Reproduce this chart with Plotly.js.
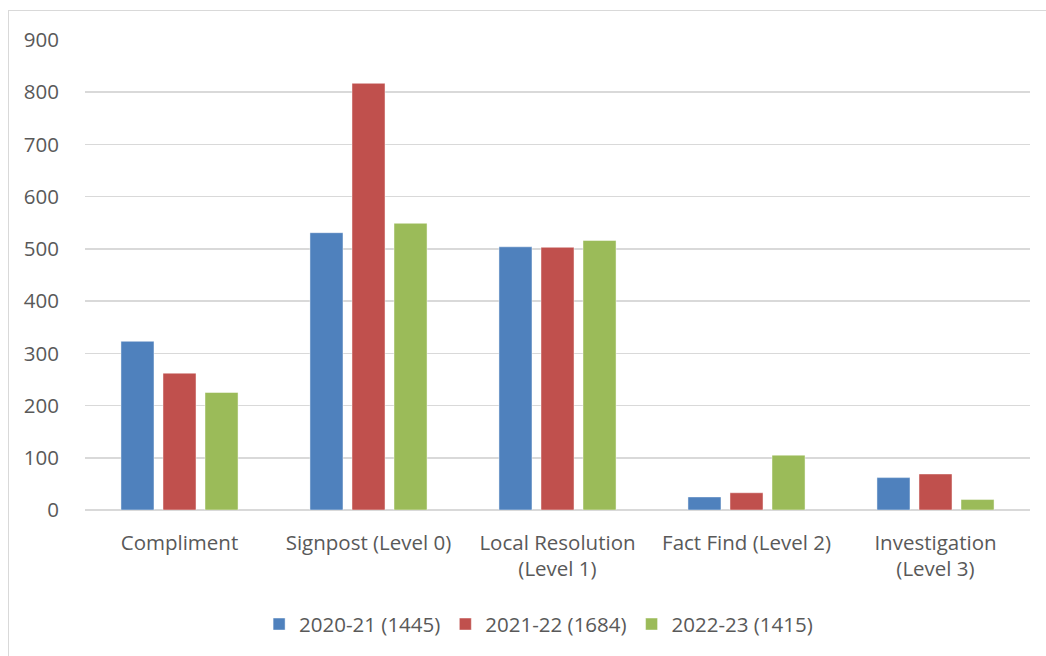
<!DOCTYPE html>
<html>
<head>
<meta charset="utf-8">
<script src="https://cdn.plot.ly/plotly-3.0.1.min.js"></script>
<style>
  html, body { margin: 0; padding: 0; background: #ffffff; }
  #wrap { position: relative; width: 1046px; height: 656px; overflow: hidden; }
  #frame { position: absolute; left: 8px; top: 10px; width: 1060px; height: 700px;
           border-left: 1.5px solid #d9d9d9; border-top: 1.5px solid #d9d9d9; box-sizing: border-box; }
  #chart { position: absolute; left: 0; top: 0; width: 1046px; height: 656px; }
</style>
</head>
<body>
<div id="wrap">
  <div id="frame"></div>
  <div id="chart"></div>
</div>
<script>
// Case categories
const categories = [
  'Compliment',
  'Signpost (Level 0)',
  'Local Resolution<br>(Level 1)',
  'Fact Find (Level 2)',
  'Investigation<br>(Level 3)'
];

// Counts per year
const values2020 = [323, 531, 504, 25, 62];
const values2021 = [262, 817, 503, 33, 69];
const values2022 = [225, 549, 516, 105, 20];

// Legend labels (year and total)
const seriesNames = ['2020-21 (1445)', '2021-22 (1684)', '2022-23 (1415)'];
const seriesColors = ['#4f81bd', '#c0504d', '#9bbb59'];

const yTicks = [0, 100, 200, 300, 400, 500, 600, 700, 800, 900];

const series = [values2020, values2021, values2022];
const traces = series.map((vals, i) => ({
  type: 'bar',
  x: categories,
  y: vals,
  name: seriesNames[i],
  marker: { color: seriesColors[i], line: { color: 'rgba(255,255,255,0.45)', width: 1 } },
  hoverinfo: 'x+y+name'
}));

const axisFont = { family: 'Open Sans, Noto Sans, sans-serif', size: 20.5, color: '#595959' };
const legendFont = { family: 'Open Sans, Noto Sans, sans-serif', size: 20.5, color: '#595959' };

const layout = {
  width: 1046,
  height: 656,
  margin: { l: 85, r: 16, t: 40, b: 143 },
  paper_bgcolor: 'rgba(0,0,0,0)',
  plot_bgcolor: 'rgba(0,0,0,0)',
  barmode: 'group',
  bargap: 0.333,
  bargroupgap: 0.214,
  font: axisFont,
  showlegend: true,
  legend: {
    orientation: 'h',
    x: 0.48, xanchor: 'center',
    y: -0.243, yanchor: 'middle',
    font: legendFont,
    itemwidth: 30,
    traceorder: 'normal'
  },
  xaxis: {
    type: 'category',
    showgrid: false,
    showline: false,
    zeroline: false,
    ticks: 'outside',
    ticklen: 14,
    tickcolor: 'rgba(0,0,0,0)',
    tickfont: axisFont,
    automargin: false
  },
  yaxis: {
    range: [0, 900],
    tickvals: yTicks,
    ticktext: yTicks.map(String),
    showgrid: true,
    gridcolor: '#d9d9d9',
    gridwidth: 1.5,
    zeroline: true,
    zerolinecolor: '#d9d9d9',
    zerolinewidth: 1.5,
    showline: false,
    ticks: 'outside',
    ticklen: 21,
    tickcolor: 'rgba(0,0,0,0)',
    tickfont: axisFont,
    automargin: false
  }
};

Plotly.newPlot('chart', traces, layout, { displayModeBar: false, staticPlot: true });
</script>
</body>
</html>
